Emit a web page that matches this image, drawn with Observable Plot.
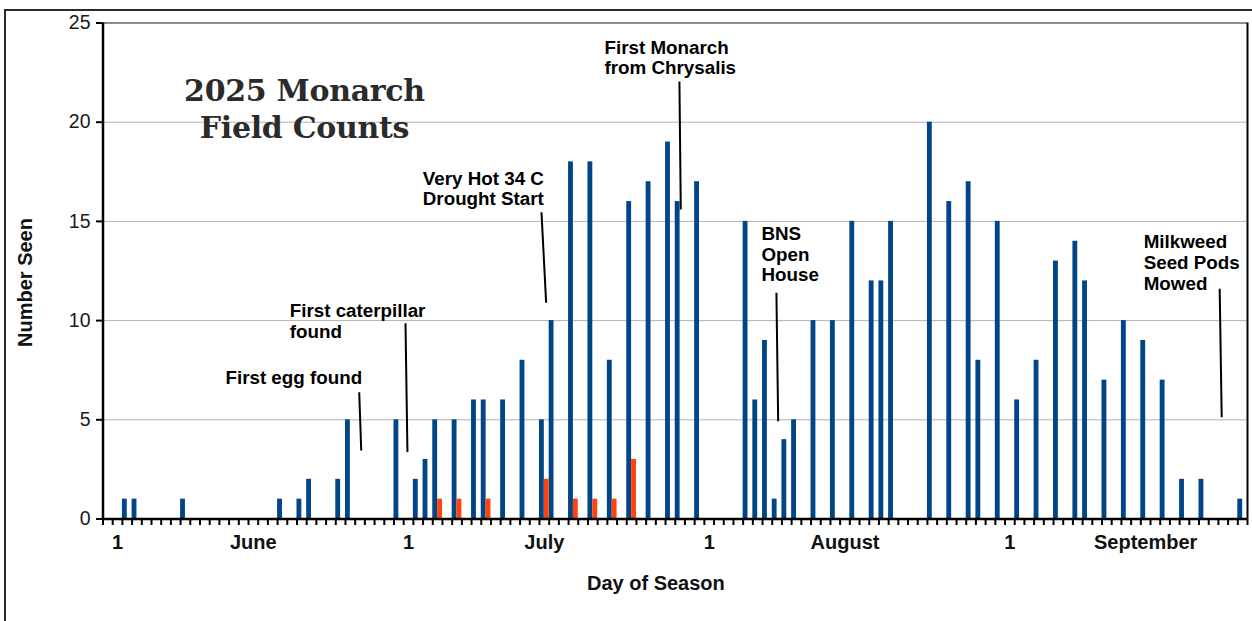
<!DOCTYPE html>
<html><head><meta charset="utf-8">
<script src="https://cdn.jsdelivr.net/npm/d3@7"></script>
<script src="https://cdn.jsdelivr.net/npm/@observablehq/plot@0.6"></script>
<style>
html,body{margin:0;padding:0;background:#fff;overflow:hidden;}
#wrap{position:relative;width:1252px;height:621px;overflow:hidden;}
#frame{position:absolute;left:4px;top:9px;width:1400px;height:800px;border:2px solid #2b2b2b;box-sizing:border-box;}
#chart{position:absolute;left:0;top:0;}
</style></head><body><div id="wrap"><div id="frame"></div><div id="chart"></div></div>
<script>
// ---- data ----
const seasonStart = "2025-05-31";
const seasonEnd = "2025-09-26";
const mainDates = ["2025-06-02","2025-06-03","2025-06-08","2025-06-18","2025-06-20","2025-06-21","2025-06-24","2025-06-25","2025-06-30",
  "2025-07-02","2025-07-03","2025-07-04","2025-07-06","2025-07-08","2025-07-09","2025-07-11","2025-07-13","2025-07-15","2025-07-16","2025-07-18","2025-07-20","2025-07-22","2025-07-24","2025-07-26","2025-07-28","2025-07-29","2025-07-31",
  "2025-08-05","2025-08-06","2025-08-07","2025-08-08","2025-08-09","2025-08-10","2025-08-12","2025-08-14","2025-08-16","2025-08-18","2025-08-19","2025-08-20","2025-08-24","2025-08-26","2025-08-28","2025-08-29","2025-08-31",
  "2025-09-02","2025-09-04","2025-09-06","2025-09-08","2025-09-09","2025-09-11","2025-09-13","2025-09-15","2025-09-17","2025-09-19","2025-09-21","2025-09-25"];
const mainCounts = [1,1,1,1,1,2,2,5,5,
  2,3,5,5,6,6,6,8,5,10,18,18,8,16,17,19,16,17,
  15,6,9,1,4,5,10,10,15,12,12,15,20,16,17,8,15,
  6,8,13,14,12,7,10,9,7,2,2,1];
const secondDates = ["2025-07-04","2025-07-06","2025-07-09","2025-07-15","2025-07-18","2025-07-20","2025-07-22","2025-07-24"];
const secondCounts = [1,1,1,2,1,1,1,3];
const yTicks = [0,5,10,15,20,25];
const monthStartTicks = ["2025-06-01","2025-07-01","2025-08-01","2025-09-01"];
const monthStartLabels = ["1","1","1","1"];
const monthMidTicks = ["2025-06-15","2025-07-15","2025-08-15","2025-09-15"];
const monthNames = ["June","July","August","September"];
const titleText = "2025 Monarch\nField Counts";
const titleAt = "2025-06-20T18:30Z";
const titleValue = 22.43;
const noteTexts = ["First egg found","First caterpillar\nfound","Very Hot 34 C\nDrought Start","First Monarch\nfrom Chrysalis","BNS\nOpen\nHouse","Milkweed\nSeed Pods\nMowed"];
const noteX = ["2025-06-12T15:00Z","2025-06-19T06:00Z","2025-07-02T23:20Z","2025-07-21T17:00Z","2025-08-06T21:20Z","2025-09-15T07:10Z"];
const noteY = [7.55,10.9,17.6,24.2,14.8,14.38];
const leaderX1 = ["2025-06-26T10:00Z","2025-07-01T04:30Z","2025-07-15T05:00Z","2025-07-29T10:20Z","2025-08-08T10:20Z","2025-09-23T03:10Z"];
const leaderY1 = [6.39,9.87,15.46,22.05,11.40,11.60];
const leaderX2 = ["2025-06-26T15:00Z","2025-07-01T09:20Z","2025-07-15T16:30Z","2025-07-29T13:40Z","2025-08-08T14:40Z","2025-09-23T08:10Z"];
const leaderY2 = [3.45,3.37,10.90,15.60,4.93,5.13];
const xTitle = "Day of Season";
const xTitleAt = "2025-07-27T00:00Z";
const yTitle = "Number Seen";
const yTitleValue = 11.92;

// ---- build ----
const P = s => new Date(s.length === 10 ? s + "T00:00Z" : s);
const noon = d => d3.utcHour.offset(d, 12);
const mainRows = mainDates.map((d, i) => ({x1: P(d), x2: noon(P(d)), count: mainCounts[i]}));
const secondRows = secondDates.map((d, i) => ({x1: noon(P(d)), x2: d3.utcDay.offset(P(d), 1), count: secondCounts[i]}));
const dayTicks = d3.utcDay.range(P(seasonStart), d3.utcDay.offset(P(seasonEnd), 1));
const labelMap = new Map();
monthStartTicks.forEach((d, i) => labelMap.set(+noon(P(d)), monthStartLabels[i]));
monthMidTicks.forEach((d, i) => labelMap.set(+noon(P(d)), monthNames[i]));
const labelTicks = [...labelMap.keys()].map(t => new Date(t));
const notes = noteTexts.map((t, i) => ({text: t, x: P(noteX[i]), y: noteY[i]}));
const leaders = leaderX1.map((d, i) => ({x1: P(d), y1: leaderY1[i], x2: P(leaderX2[i]), y2: leaderY2[i]}));

const chart = Plot.plot({
  width: 1252, height: 621,
  marginLeft: 102.5, marginRight: 5, marginTop: 22.5, marginBottom: 102.5,
  style: {fontFamily: "'Liberation Sans', Arial, sans-serif", background: "transparent", color: "#111"},
  x: {type: "utc", domain: [P(seasonStart), P(seasonEnd)]},
  y: {domain: [0, 25]},
  marks: [
    Plot.gridY(yTicks.filter(v => v > 0 && v < 25), {stroke: "#b3b3b3", strokeOpacity: 1, strokeWidth: 1}),
    Plot.ruleY([25], {stroke: "#8c8c8c", strokeWidth: 2}),
    Plot.rectY(mainRows, {x1: "x1", x2: "x2", y: "count", fill: "#004586"}),
    Plot.rectY(secondRows, {x1: "x1", x2: "x2", y: "count", fill: "#ff420e"}),
    Plot.axisY(yTicks, {tickSize: 6.5, tickPadding: 6, fontSize: 19.5, stroke: "#000", strokeWidth: 2, fill: "#1a1a1a", label: null}),
    Plot.axisX(dayTicks, {tickSize: 6.5, tickFormat: () => "", stroke: "#000", strokeWidth: 2, label: null}),
    Plot.axisX(labelTicks, {tickSize: 0, tickPadding: 16, tickFormat: d => labelMap.get(+d), fontSize: 20, fontWeight: "bold", fill: "#111", label: null}),
    Plot.ruleX([P(seasonStart)], {stroke: "#000", strokeWidth: 2.5}),
    Plot.ruleX([P(seasonEnd)], {stroke: "#000", strokeWidth: 2}),
    Plot.ruleY([0], {stroke: "#000", strokeWidth: 2.5}),
    Plot.link(leaders, {x1: "x1", y1: "y1", x2: "x2", y2: "y2", stroke: "#000", strokeWidth: 2}),
    Plot.text(notes, {x: "x", y: "y", text: "text", textAnchor: "start", lineAnchor: "top", fontSize: 18.8, fontWeight: "bold", lineHeight: 1.1, fill: "#000"}),
    Plot.text([titleText], {x: () => P(titleAt), y: () => titleValue, text: d => d, textAnchor: "middle", lineAnchor: "top", fontSize: 30, fontWeight: "bold", lineHeight: 1.253, fill: "#2b2b2b", fontFamily: "'DejaVu Serif', serif"}),
    Plot.text([xTitle], {x: () => P(xTitleAt), frameAnchor: "bottom", dy: 57, lineAnchor: "top", text: d => d, fontSize: 20, fontWeight: "bold", fill: "#111"}),
    Plot.text([yTitle], {y: () => yTitleValue, frameAnchor: "left", dx: -77.5, rotate: -90, textAnchor: "middle", text: d => d, fontSize: 20, fontWeight: "bold", fill: "#111"})
  ]
});
document.getElementById("chart").appendChild(chart);
const titleNode = d3.select(chart).selectAll("text").filter(function () { return this.textContent.includes("Monarch") && this.textContent.includes("Field"); });
titleNode.attr("letter-spacing", "-0.3");
</script>
</body></html>
